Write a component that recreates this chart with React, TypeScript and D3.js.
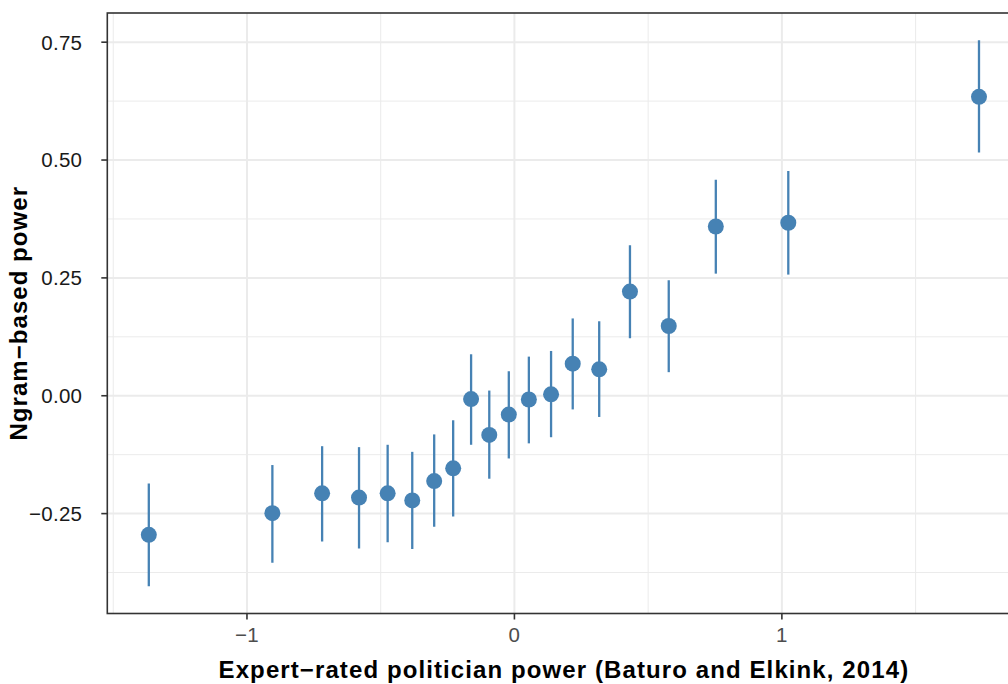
import React from "react";
import * as d3 from "d3";

// Data
const expertPower = [-1.367, -0.905, -0.719, -0.581, -0.474, -0.382, -0.300, -0.229, -0.162, -0.094, -0.021, 0.054, 0.137, 0.218, 0.317, 0.432, 0.577, 0.753, 1.024, 1.737];
const ngramPower = [-0.295, -0.249, -0.207, -0.216, -0.207, -0.222, -0.181, -0.154, -0.007, -0.083, -0.040, -0.008, 0.003, 0.068, 0.056, 0.221, 0.148, 0.359, 0.367, 0.634];
const ngramLower = [-0.404, -0.354, -0.309, -0.324, -0.311, -0.325, -0.278, -0.256, -0.104, -0.176, -0.133, -0.101, -0.088, -0.029, -0.045, 0.122, 0.050, 0.259, 0.257, 0.516];
const ngramUpper = [-0.186, -0.147, -0.107, -0.109, -0.104, -0.119, -0.082, -0.052, 0.088, 0.011, 0.052, 0.083, 0.095, 0.164, 0.158, 0.319, 0.245, 0.458, 0.477, 0.754];
const xTicks = [-1, 0, 1];
const xMinor = [-1.5, -0.5, 0.5, 1.5];
const yTicks = [-0.25, 0, 0.25, 0.5, 0.75];
const yMinor = [-0.375, -0.125, 0.125, 0.375, 0.625];
const xLabel = "Expert\u2212rated politician power (Baturo and Elkink, 2014)";
const yLabel = "Ngram\u2212based power";

const W = 1008;
const H = 684;
const panel = { left: 107.3, right: 1020.5, top: 13, bottom: 613.5 };
const FONT = "'Liberation Sans', Arial, Helvetica, sans-serif";
const POINT = "#4682B4";

function fmtY(v: number) {
  const s = v.toFixed(2);
  return v < 0 ? "\u2212" + s.slice(1) : s;
}
function fmtX(v: number) {
  return v < 0 ? "\u2212" + String(Math.abs(v)) : String(v);
}

export default function App() {
  const xMin = d3.min(expertPower)!;
  const xMax = d3.max(expertPower)!;
  const xPad = (xMax - xMin) * 0.05;
  const yMin = d3.min(ngramLower)!;
  const yMax = d3.max(ngramUpper)!;
  const yPad = (yMax - yMin) * 0.05;
  const x = d3.scaleLinear().domain([xMin - xPad, xMax + xPad]).range([panel.left, panel.right]);
  const y = d3.scaleLinear().domain([yMin - yPad, yMax + yPad]).range([panel.bottom, panel.top]);

  return (
    <svg width={W} height={H} style={{ position: "absolute", left: 0, top: 0, display: "block" }}>
      <defs>
        <clipPath id="pclip">
          <rect x={panel.left} y={panel.top} width={panel.right - panel.left} height={panel.bottom - panel.top} />
        </clipPath>
      </defs>
      <rect x={0} y={0} width={W} height={H} fill="#fff" />
      <g clipPath="url(#pclip)">
        {yMinor.map((v) => (
          <line key={"ym" + v} x1={panel.left} x2={panel.right} y1={y(v)} y2={y(v)} stroke="#EBEBEB" strokeWidth={1} />
        ))}
        {xMinor.map((v) => (
          <line key={"xm" + v} y1={panel.top} y2={panel.bottom} x1={x(v)} x2={x(v)} stroke="#EBEBEB" strokeWidth={1} />
        ))}
        {yTicks.map((v) => (
          <line key={"yM" + v} x1={panel.left} x2={panel.right} y1={y(v)} y2={y(v)} stroke="#EBEBEB" strokeWidth={2} />
        ))}
        {xTicks.map((v) => (
          <line key={"xM" + v} y1={panel.top} y2={panel.bottom} x1={x(v)} x2={x(v)} stroke="#EBEBEB" strokeWidth={2} />
        ))}
        {expertPower.map((xv, i) => (
          <line key={"e" + i} x1={x(xv)} x2={x(xv)} y1={y(ngramLower[i])} y2={y(ngramUpper[i])} stroke={POINT} strokeWidth={2.3} />
        ))}
        {expertPower.map((xv, i) => (
          <circle key={"p" + i} cx={x(xv)} cy={y(ngramPower[i])} r={8} fill={POINT} />
        ))}
      </g>
      <rect x={panel.left} y={panel.top} width={panel.right - panel.left} height={panel.bottom - panel.top} fill="none" stroke="#333333" strokeWidth={1.6} />
      {yTicks.map((v) => (
        <g key={"yt" + v}>
          <line x1={panel.left - 6} x2={panel.left} y1={y(v)} y2={y(v)} stroke="#333333" strokeWidth={1.6} />
          <text x={panel.left - 25} y={y(v)} dy="0.36em" textAnchor="end" fontFamily={FONT} fontSize={20.5} letterSpacing={0.3} fill="#1a1a1a">
            {fmtY(v)}
          </text>
        </g>
      ))}
      {xTicks.map((v) => (
        <g key={"xt" + v}>
          <line x1={x(v)} x2={x(v)} y1={panel.bottom} y2={panel.bottom + 6} stroke="#333333" strokeWidth={1.6} />
          <text x={x(v)} y={641.7} textAnchor="middle" fontFamily={FONT} fontSize={20.5} letterSpacing={0.3} fill="#4D4D4D">
            {fmtX(v)}
          </text>
        </g>
      ))}
      <text x={(panel.left + panel.right) / 2} y={677.8} textAnchor="middle" fontFamily={FONT} fontWeight="bold" fontSize={24} letterSpacing={1.1} fill="#000">
        {xLabel}
      </text>
      <text transform={`translate(26.9,${(panel.top + panel.bottom) / 2}) rotate(-90)`} textAnchor="middle" fontFamily={FONT} fontWeight="bold" fontSize={24} letterSpacing={1.05} fill="#000">
        {yLabel}
      </text>
    </svg>
  );
}
